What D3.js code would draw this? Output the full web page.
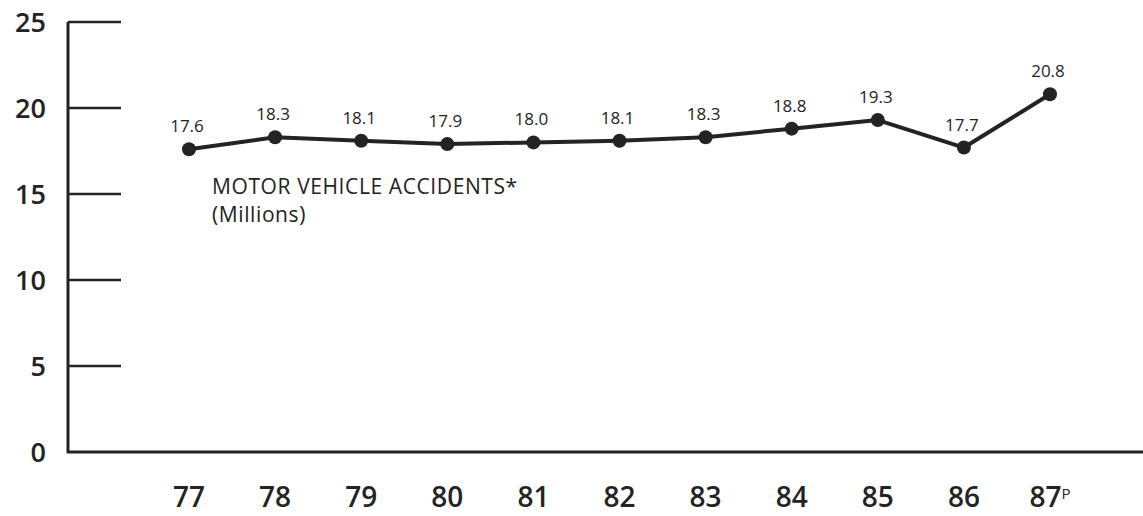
<!DOCTYPE html>
<html>
<head>
<meta charset="utf-8">
<script src="https://cdn.jsdelivr.net/npm/d3@7"></script>
<style>
  body { margin: 0; background: #fff; }
  svg { display: block; font-family: "Open Sans", "Noto Sans", sans-serif; }
</style>
</head>
<body>
<div id="chart"></div>
<script>
const years = ["77", "78", "79", "80", "81", "82", "83", "84", "85", "86", "87"];
const accidents = [17.6, 18.3, 18.1, 17.9, 18.0, 18.1, 18.3, 18.8, 19.3, 17.7, 20.8];
const yTicks = [0, 5, 10, 15, 20, 25];
const seriesLabel = ["MOTOR VEHICLE ACCIDENTS*", "(Millions)"];

const width = 1143, height = 516;
const ink = "#232323";

const svg = d3.select("#chart").append("svg")
    .attr("width", width)
    .attr("height", height);

const x = d3.scalePoint()
    .domain(years)
    .range([189, 1050]);

const y = d3.scaleLinear()
    .domain([0, 25])
    .range([452, 22]);

// y axis: line plus inward ticks
svg.append("line")
    .attr("x1", 68).attr("x2", 68)
    .attr("y1", y(25)).attr("y2", y(0) + 1)
    .attr("stroke", ink)
    .attr("stroke-width", 3);

svg.selectAll(".ytick")
    .data(yTicks.filter(d => d > 0))
    .enter()
    .append("line")
    .attr("x1", 68)
    .attr("x2", 121)
    .attr("y1", d => y(d))
    .attr("y2", d => y(d))
    .attr("stroke", ink)
    .attr("stroke-width", 2.5);

svg.selectAll(".ylabel")
    .data(yTicks)
    .enter()
    .append("text")
    .attr("x", 46)
    .attr("y", d => y(d) + 10)
    .attr("text-anchor", "end")
    .attr("font-size", 27)
    .attr("font-weight", 600)
    .attr("fill", ink)
    .text(d => d);

// x axis baseline
svg.append("line")
    .attr("x1", 67).attr("x2", width)
    .attr("y1", y(0)).attr("y2", y(0))
    .attr("stroke", ink)
    .attr("stroke-width", 3);

const xLabels = svg.selectAll(".xlabel")
    .data(years)
    .enter()
    .append("text")
    .attr("x", d => x(d))
    .attr("y", 507)
    .attr("text-anchor", "middle")
    .attr("font-size", 28)
    .attr("font-weight", 600)
    .attr("fill", ink)
    .text(d => d);

xLabels.filter(d => d === "87")
    .append("tspan")
    .attr("font-size", 15)
    .attr("font-weight", 400)
    .attr("dy", -8)
    .text("P");

// series line and markers
const line = d3.line()
    .x((d, i) => x(years[i]))
    .y(d => y(d));

svg.append("path")
    .datum(accidents)
    .attr("d", line)
    .attr("fill", "none")
    .attr("stroke", ink)
    .attr("stroke-width", 4)
    .attr("stroke-linejoin", "round");

svg.selectAll(".dot")
    .data(accidents)
    .enter()
    .append("circle")
    .attr("cx", (d, i) => x(years[i]))
    .attr("cy", d => y(d))
    .attr("r", 7)
    .attr("fill", ink);

svg.selectAll(".value")
    .data(accidents)
    .enter()
    .append("text")
    .attr("x", (d, i) => x(years[i]) - 2)
    .attr("y", d => y(d) - 17)
    .attr("text-anchor", "middle")
    .attr("font-size", 17)
    .attr("font-weight", 500)
    .attr("fill", ink)
    .text(d => d.toFixed(1));

svg.selectAll(".series")
    .data(seriesLabel)
    .enter()
    .append("text")
    .attr("x", 212)
    .attr("y", (d, i) => 194 + i * 28)
    .attr("font-size", 21)
    .attr("font-weight", 500)
    .attr("letter-spacing", 0.6)
    .attr("fill", ink)
    .text(d => d);
</script>
</body>
</html>
